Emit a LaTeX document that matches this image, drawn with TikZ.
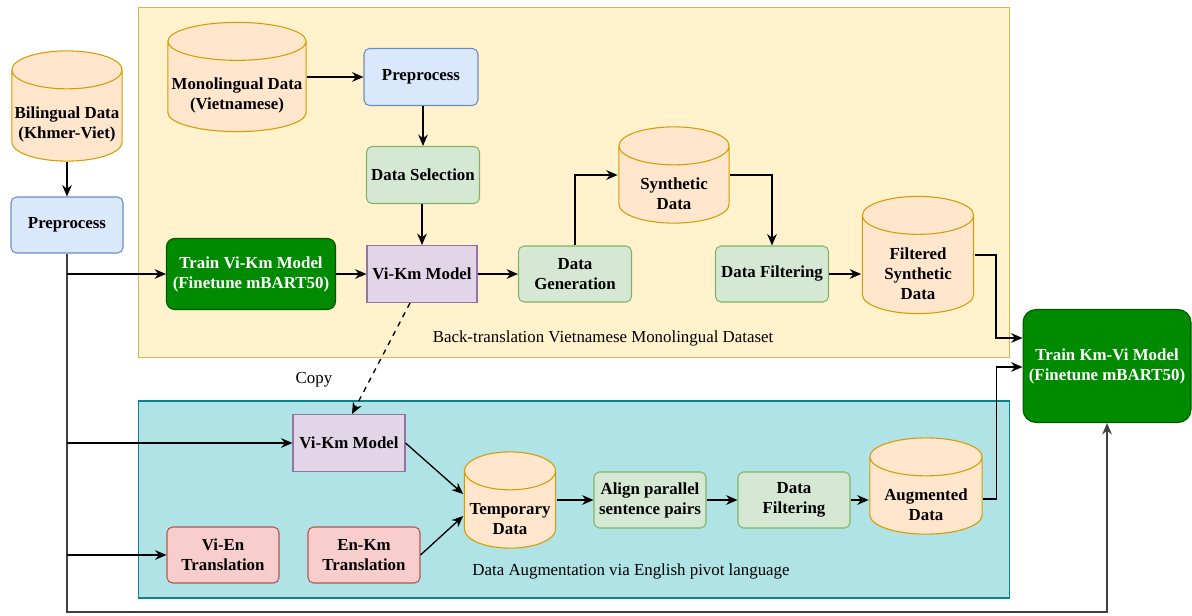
\documentclass[tikz,border=0pt]{standalone}
\usepackage{fontspec}
\setmainfont{Liberation Serif}
\usepackage{tikz}
\usetikzlibrary{arrows.meta,calc}

\definecolor{bluef}{HTML}{DAE8FC}
\definecolor{blued}{HTML}{6C8EBF}
\definecolor{grnf}{HTML}{D5E8D4}
\definecolor{grnd}{HTML}{82B366}
\definecolor{purf}{HTML}{E1D5E7}
\definecolor{purd}{HTML}{9673A6}
\definecolor{redf}{HTML}{F8CECC}
\definecolor{redd}{HTML}{B85450}
\definecolor{orgf}{HTML}{FFE6CC}
\definecolor{orgd}{HTML}{D79B00}
\definecolor{dgrf}{HTML}{008A00}
\definecolor{dgrd}{HTML}{005700}
\definecolor{yelf}{HTML}{FFF2CC}
\definecolor{yeld}{HTML}{D6B656}
\definecolor{cyaf}{HTML}{B0E3E6}
\definecolor{cyad}{HTML}{0E8088}

\newcommand{\fs}{\fontsize{9.6}{11.4}\selectfont}
\newcommand{\dt}{\rule{0pt}{28pt}}

\tikzset{
  box/.style={rectangle, draw, line width=0.6pt, align=center, inner sep=2pt,
    font=\fs\bfseries, minimum width=2.24cm, minimum height=1.12cm},
  bbox/.style={box, fill=bluef, draw=blued, rounded corners=0.11cm},
  gbox/.style={box, fill=grnf, draw=grnd, rounded corners=0.11cm},
  rbox/.style={box, fill=redf, draw=redd, rounded corners=0.11cm},
  pbox/.style={box, fill=purf, draw=purd},
  dgbox/.style={box, fill=dgrf, draw=dgrd, text=white, rounded corners=0.16cm},
  db/.style={rectangle, inner sep=0pt, align=center, font=\fs\bfseries,
    path picture={
      \path[draw=orgd, fill=orgf, line width=0.6pt]
        let \p1=(path picture bounding box.south west),
            \p2=(path picture bounding box.north east),
            \n1={(\x2-\x1)/2-0.5pt} in
        (\x1+0.5pt,\y2-11.3pt) -- (\x1+0.5pt,\y1+11.3pt)
        arc[start angle=180, end angle=360, x radius=\n1, y radius=10.8pt]
        -- (\x2-0.5pt,\y2-11.3pt)
        arc[start angle=0, end angle=180, x radius=\n1, y radius=10.8pt] -- cycle
        (\x1+0.5pt,\y2-11.3pt)
        arc[start angle=180, end angle=360, x radius=\n1, y radius=10.8pt];
    }},
  cont/.style={rectangle, line width=0.6pt, inner sep=0pt},
  lab/.style={font=\fs},
  arr/.style={-{Stealth[length=6.5pt,width=5.5pt]}, line width=0.75pt},
}

\begin{document}
\begin{tikzpicture}[x=0.02cm, y=-0.02cm]
  \useasboundingbox (0,0) rectangle (1192,615);

  \node[cont, fill=yelf, draw=yeld, minimum width=17.44cm, minimum height=7.02cm] (bt) at (574,182.5) {};
  \node[cont, fill=cyaf, draw=cyad, minimum width=17.44cm, minimum height=3.94cm] (da) at (574,499.5) {};
  \node[lab] (btlab) at (603,338) {Back-translation Vietnamese Monolingual Dataset};
  \node[lab] (dalab) at (631,571) {Data Augmentation via English pivot language};
  \node[lab] (copy) at (314,380) {Copy};

  \node[db, minimum width=2.24cm, minimum height=2.24cm] (bil) at (67,106) {\dt Bilingual Data\\(Khmer-Viet)};
  \node[bbox] (pre1) at (67,225) {Preprocess};

  \node[db, minimum width=2.8cm, minimum height=2.22cm] (mono) at (237,77) {\dt Monolingual Data\\(Vietnamese)};
  \node[bbox, minimum width=2.28cm, minimum height=1.14cm] (pre2) at (421,77) {Preprocess};
  \node[gbox, minimum width=2.26cm, minimum height=1.14cm] (sel) at (423,175) {Data Selection};
  \node[dgbox, minimum width=3.38cm, minimum height=1.42cm] (trvk) at (251,274) {Train Vi-Km Model\\(Finetune mBART50)};
  \node[pbox, minimum width=2.2cm, minimum height=1.14cm] (vk1) at (422,274) {Vi-Km Model};
  \node[gbox, minimum width=2.26cm] (gen) at (575,274) {Data\\Generation};
  \node[db, minimum width=2.24cm, minimum height=1.96cm] (syn) at (674,175) {\dt Synthetic\\Data};
  \node[gbox, minimum width=2.26cm] (filt1) at (772,274) {Data Filtering};
  \node[db, minimum width=2.26cm, minimum height=2.38cm] (fsyn) at (918,255) {\dt Filtered\\Synthetic\\Data};
  \node[dgbox, rounded corners=0.26cm, minimum width=3.36cm, minimum height=2.26cm] (trkv) at (1107,366) {Train Km-Vi Model\\(Finetune mBART50)};

  \node[pbox, minimum height=1.14cm] (vk2) at (349,443) {Vi-Km Model};
  \node[db, minimum width=1.86cm, minimum height=1.96cm] (tmp) at (510,500) {\dt Temporary\\Data};
  \node[rbox] (vien) at (223,555) {Vi-En\\Translation};
  \node[rbox] (enkm) at (364,555) {En-Km\\Translation};
  \node[gbox] (algn) at (650,500) {Align parallel\\sentence pairs};
  \node[gbox] (filt2) at (794,500) {Data\\Filtering};
  \node[db, minimum width=2.28cm, minimum height=1.96cm] (aug) at (926,486) {\dt Augmented\\Data};

  \coordinate (bot) at (67,612);
  \draw[arr] (bil) -- (pre1);
  \draw[arr, line width=1.1pt, black!75] (pre1) -- (bot) -| (trkv);
  \draw[arr] (pre1.south |- trvk.west) -- (trvk);
  \draw[arr] (pre1.south |- vk2.west) -- (vk2);
  \draw[arr] (pre1.south |- vien.west) -- (vien);

  \draw[arr] (mono) -- (pre2);
  \draw[arr] (pre2.south -| sel.north) -- (sel);
  \draw[arr] (sel.south -| vk1.north) -- (vk1);
  \draw[arr] (trvk) -- (vk1);
  \draw[arr] (vk1) -- (gen);
  \draw[arr] (gen.north) |- (syn.west);
  \draw[arr] (syn.east) -| (filt1.north);
  \draw[arr] (filt1.east) -- (filt1.east -| fsyn.west);
  \draw[arr] (fsyn.east) -- ++(21,0) |- ([yshift=0.56cm]trkv.west);

  \draw[arr, dashed] ([xshift=-0.24cm]vk1.south) -- ([xshift=0.06cm]vk2.north);
  \draw[arr] (vk2.east) -- ([yshift=0.12cm]tmp.west);
  \draw[arr] (enkm.east) -- ([yshift=-0.32cm]tmp.west);
  \draw[arr] (tmp) -- (algn);
  \draw[arr] (algn) -- (filt2);
  \draw[arr] (filt2.east) -- (filt2.east -| aug.west);
  \draw[arr] ([yshift=-0.26cm]aug.east) -- ++(13,0) |- ([yshift=-0.02cm]trkv.west);
\end{tikzpicture}
\end{document}
